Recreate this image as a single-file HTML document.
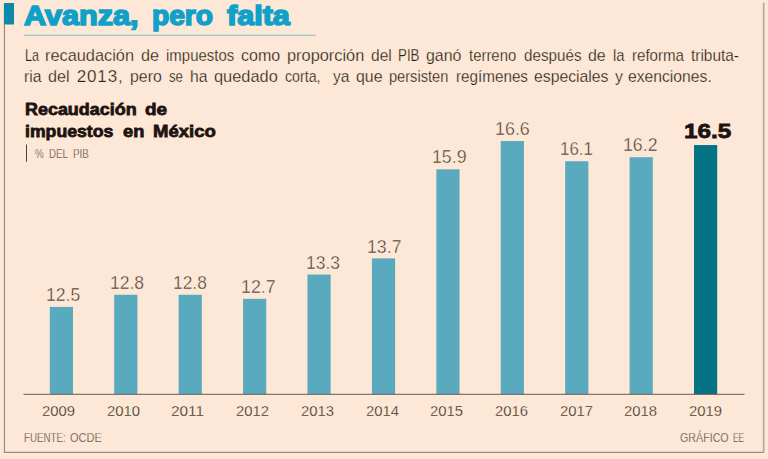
<!DOCTYPE html>
<html><head><meta charset="utf-8">
<style>
html,body{margin:0;padding:0;}
body{width:768px;height:459px;background:#fde8d7;position:relative;overflow:hidden;font-family:"Liberation Sans",sans-serif;}
.t{position:absolute;white-space:nowrap;line-height:1;transform-origin:0 0;}
</style></head><body>
<svg width="768" height="459" style="position:absolute;left:0;top:0">
<rect x="3.9" y="3" width="10.1" height="21.5" fill="#0b8aa8"/>
<path d="M4.45 24 V452.4 H763.6" fill="none" stroke="#a08a7d" stroke-width="1.2"/>
<path d="M763.7 453 V2.8" fill="none" stroke="#bca798" stroke-width="1.7"/>
<rect x="24" y="34.7" width="291.75" height="1.1" fill="#7fc3ce"/>
<rect x="26" y="144.5" width="1" height="17.2" fill="#51403a"/>
<rect x="49.80" y="306.90" width="23.2" height="87.40" fill="#5aaabf"/>
<rect x="114.22" y="294.76" width="23.2" height="99.54" fill="#5aaabf"/>
<rect x="178.64" y="294.76" width="23.2" height="99.54" fill="#5aaabf"/>
<rect x="243.06" y="298.81" width="23.2" height="95.49" fill="#5aaabf"/>
<rect x="307.48" y="274.53" width="23.2" height="119.77" fill="#5aaabf"/>
<rect x="371.90" y="258.35" width="23.2" height="135.95" fill="#5aaabf"/>
<rect x="436.32" y="169.34" width="23.2" height="224.96" fill="#5aaabf"/>
<rect x="500.74" y="141.01" width="23.2" height="253.29" fill="#5aaabf"/>
<rect x="565.16" y="161.24" width="23.2" height="233.06" fill="#5aaabf"/>
<rect x="629.58" y="157.20" width="23.2" height="237.10" fill="#5aaabf"/>
<rect x="694.00" y="145.06" width="23.2" height="249.24" fill="#037384"/>
<rect x="23.5" y="393.8" width="721" height="1" fill="#6b5a54"/>
</svg>
<span class="t" id="w0" style="left:24.44px;top:1.92px;font-size:27.5px;color:#10a0c8;transform:scaleX(1.1137);font-weight:bold;-webkit-text-stroke:1.6px #10a0c8;">Avanza,</span>
<span class="t" id="w1" style="left:152.34px;top:1.92px;font-size:27.5px;color:#10a0c8;transform:scaleX(1.0239);font-weight:bold;-webkit-text-stroke:1.6px #10a0c8;">pero</span>
<span class="t" id="w2" style="left:227.34px;top:1.92px;font-size:27.5px;color:#10a0c8;transform:scaleX(1.1109);font-weight:bold;-webkit-text-stroke:1.6px #10a0c8;">falta</span>
<span class="t" id="w3" style="left:24.50px;top:46.91px;font-size:17px;color:#2b1c17;transform:scaleX(0.7399);-webkit-text-stroke:0.25px #fde8d7;">La</span>
<span class="t" id="w4" style="left:45.25px;top:46.91px;font-size:17px;color:#2b1c17;transform:scaleX(0.9609);-webkit-text-stroke:0.25px #fde8d7;">recaudación</span>
<span class="t" id="w5" style="left:140.75px;top:46.91px;font-size:17px;color:#2b1c17;transform:scaleX(0.9513);-webkit-text-stroke:0.25px #fde8d7;">de</span>
<span class="t" id="w6" style="left:165.50px;top:46.91px;font-size:17px;color:#2b1c17;transform:scaleX(0.8808);-webkit-text-stroke:0.25px #fde8d7;">impuestos</span>
<span class="t" id="w7" style="left:240.75px;top:46.91px;font-size:17px;color:#2b1c17;transform:scaleX(0.9440);-webkit-text-stroke:0.25px #fde8d7;">como</span>
<span class="t" id="w8" style="left:286.75px;top:46.91px;font-size:17px;color:#2b1c17;transform:scaleX(0.9617);-webkit-text-stroke:0.25px #fde8d7;">proporción</span>
<span class="t" id="w9" style="left:370.50px;top:46.91px;font-size:17px;color:#2b1c17;transform:scaleX(0.9146);-webkit-text-stroke:0.25px #fde8d7;">del</span>
<span class="t" id="w10" style="left:398.00px;top:46.91px;font-size:17px;color:#2b1c17;transform:scaleX(0.7845);-webkit-text-stroke:0.25px #fde8d7;">PIB</span>
<span class="t" id="w11" style="left:425.75px;top:46.91px;font-size:17px;color:#2b1c17;transform:scaleX(0.9385);-webkit-text-stroke:0.25px #fde8d7;">ganó</span>
<span class="t" id="w12" style="left:468.75px;top:46.91px;font-size:17px;color:#2b1c17;transform:scaleX(0.8770);-webkit-text-stroke:0.25px #fde8d7;">terreno</span>
<span class="t" id="w13" style="left:523.75px;top:46.91px;font-size:17px;color:#2b1c17;transform:scaleX(0.8945);-webkit-text-stroke:0.25px #fde8d7;">después</span>
<span class="t" id="w14" style="left:588.00px;top:46.91px;font-size:17px;color:#2b1c17;transform:scaleX(0.9381);-webkit-text-stroke:0.25px #fde8d7;">de</span>
<span class="t" id="w15" style="left:612.50px;top:46.91px;font-size:17px;color:#2b1c17;transform:scaleX(0.8689);-webkit-text-stroke:0.25px #fde8d7;">la</span>
<span class="t" id="w16" style="left:631.50px;top:46.91px;font-size:17px;color:#2b1c17;transform:scaleX(0.8877);-webkit-text-stroke:0.25px #fde8d7;">reforma</span>
<span class="t" id="w17" style="left:690.50px;top:46.91px;font-size:17px;color:#2b1c17;transform:scaleX(0.9070);-webkit-text-stroke:0.25px #fde8d7;">tributa-</span>
<span class="t" id="w18" style="left:24.30px;top:67.81px;font-size:17px;color:#2b1c17;transform:scaleX(0.9256);-webkit-text-stroke:0.25px #fde8d7;">ria</span>
<span class="t" id="w19" style="left:48.00px;top:67.81px;font-size:17px;color:#2b1c17;transform:scaleX(0.9477);-webkit-text-stroke:0.25px #fde8d7;">del</span>
<span class="t" id="w20" style="left:76.70px;top:67.81px;font-size:17px;color:#2b1c17;letter-spacing:0.863px;-webkit-text-stroke:0.25px #fde8d7;">2013,</span>
<span class="t" id="w21" style="left:130.25px;top:67.81px;font-size:17px;color:#2b1c17;transform:scaleX(0.9330);-webkit-text-stroke:0.25px #fde8d7;">pero</span>
<span class="t" id="w22" style="left:168.50px;top:67.81px;font-size:17px;color:#2b1c17;transform:scaleX(0.7791);-webkit-text-stroke:0.25px #fde8d7;">se</span>
<span class="t" id="w23" style="left:189.50px;top:67.81px;font-size:17px;color:#2b1c17;transform:scaleX(0.9249);-webkit-text-stroke:0.25px #fde8d7;">ha</span>
<span class="t" id="w24" style="left:213.75px;top:67.81px;font-size:17px;color:#2b1c17;transform:scaleX(0.9632);-webkit-text-stroke:0.25px #fde8d7;">quedado</span>
<span class="t" id="w25" style="left:285.00px;top:67.81px;font-size:17px;color:#2b1c17;transform:scaleX(0.8347);-webkit-text-stroke:0.25px #fde8d7;">corta,</span>
<span class="t" id="w26" style="left:332.50px;top:67.81px;font-size:17px;color:#2b1c17;transform:scaleX(0.9183);-webkit-text-stroke:0.25px #fde8d7;">ya</span>
<span class="t" id="w27" style="left:355.50px;top:67.81px;font-size:17px;color:#2b1c17;transform:scaleX(0.9339);-webkit-text-stroke:0.25px #fde8d7;">que</span>
<span class="t" id="w28" style="left:388.75px;top:67.81px;font-size:17px;color:#2b1c17;transform:scaleX(0.8589);-webkit-text-stroke:0.25px #fde8d7;">persisten</span>
<span class="t" id="w29" style="left:455.75px;top:67.81px;font-size:17px;color:#2b1c17;transform:scaleX(0.8963);-webkit-text-stroke:0.25px #fde8d7;">regímenes</span>
<span class="t" id="w30" style="left:534.25px;top:67.81px;font-size:17px;color:#2b1c17;transform:scaleX(0.9274);-webkit-text-stroke:0.25px #fde8d7;">especiales</span>
<span class="t" id="w31" style="left:614.50px;top:67.81px;font-size:17px;color:#2b1c17;transform:scaleX(0.9412);-webkit-text-stroke:0.25px #fde8d7;">y</span>
<span class="t" id="w32" style="left:628.00px;top:67.81px;font-size:17px;color:#2b1c17;transform:scaleX(0.9230);-webkit-text-stroke:0.25px #fde8d7;">exenciones.</span>
<span class="t" id="w33" style="left:25.07px;top:101.04px;font-size:17.2px;color:#1d1311;transform:scaleX(1.0432);font-weight:bold;-webkit-text-stroke:0.8px #1d1311;">Recaudación</span>
<span class="t" id="w34" style="left:145.22px;top:101.04px;font-size:17.2px;color:#1d1311;transform:scaleX(1.0996);font-weight:bold;-webkit-text-stroke:0.8px #1d1311;">de</span>
<span class="t" id="w35" style="left:25.07px;top:122.94px;font-size:17.2px;color:#1d1311;transform:scaleX(1.0272);font-weight:bold;-webkit-text-stroke:0.8px #1d1311;">impuestos</span>
<span class="t" id="w36" style="left:122.72px;top:122.94px;font-size:17.2px;color:#1d1311;transform:scaleX(1.0597);font-weight:bold;-webkit-text-stroke:0.8px #1d1311;">en</span>
<span class="t" id="w37" style="left:152.82px;top:122.94px;font-size:17.2px;color:#1d1311;transform:scaleX(1.0786);font-weight:bold;-webkit-text-stroke:0.8px #1d1311;">México</span>
<span class="t" id="w38" style="left:35.00px;top:147.17px;font-size:13.5px;color:#57463f;transform:scaleX(0.7282);-webkit-text-stroke:0.25px #fde8d7;">%</span>
<span class="t" id="w39" style="left:48.75px;top:147.17px;font-size:13.5px;color:#57463f;transform:scaleX(0.7139);-webkit-text-stroke:0.25px #fde8d7;">DEL</span>
<span class="t" id="w40" style="left:73.25px;top:147.17px;font-size:13.5px;color:#57463f;transform:scaleX(0.7236);-webkit-text-stroke:0.25px #fde8d7;">PIB</span>
<span class="t" id="w41" style="left:24.00px;top:430.58px;font-size:13.2px;color:#57463f;transform:scaleX(0.7400);-webkit-text-stroke:0.25px #fde8d7;">FUENTE:</span>
<span class="t" id="w42" style="left:70.00px;top:430.58px;font-size:13.2px;color:#57463f;transform:scaleX(0.8331);-webkit-text-stroke:0.25px #fde8d7;">OCDE</span>
<span class="t" id="w43" style="left:680.25px;top:430.58px;font-size:13.2px;color:#57463f;transform:scaleX(0.8098);-webkit-text-stroke:0.25px #fde8d7;">GRÁFICO</span>
<span class="t" id="w44" style="left:733.25px;top:430.58px;font-size:13.2px;color:#57463f;transform:scaleX(0.6252);-webkit-text-stroke:0.25px #fde8d7;">EE</span>
<span class="t" id="w45" style="left:46.30px;top:285.05px;font-size:19.2px;color:#3f2f29;transform:scaleX(0.9181);-webkit-text-stroke:0.45px #fde8d7;">12.5</span>
<span class="t" id="w46" style="left:109.70px;top:272.91px;font-size:19.2px;color:#3f2f29;transform:scaleX(0.9128);-webkit-text-stroke:0.45px #fde8d7;">12.8</span>
<span class="t" id="w47" style="left:172.90px;top:272.91px;font-size:19.2px;color:#3f2f29;transform:scaleX(0.9047);-webkit-text-stroke:0.45px #fde8d7;">12.8</span>
<span class="t" id="w48" style="left:241.00px;top:276.96px;font-size:19.2px;color:#3f2f29;transform:scaleX(0.9302);-webkit-text-stroke:0.45px #fde8d7;">12.7</span>
<span class="t" id="w49" style="left:305.50px;top:252.68px;font-size:19.2px;color:#3f2f29;transform:scaleX(0.9101);-webkit-text-stroke:0.45px #fde8d7;">13.3</span>
<span class="t" id="w50" style="left:367.00px;top:236.50px;font-size:19.2px;color:#3f2f29;transform:scaleX(0.9235);-webkit-text-stroke:0.45px #fde8d7;">13.7</span>
<span class="t" id="w51" style="left:431.50px;top:147.48px;font-size:19.2px;color:#3f2f29;transform:scaleX(0.9235);-webkit-text-stroke:0.45px #fde8d7;">15.9</span>
<span class="t" id="w52" style="left:494.70px;top:119.16px;font-size:19.2px;color:#3f2f29;transform:scaleX(0.9315);-webkit-text-stroke:0.45px #fde8d7;">16.6</span>
<span class="t" id="w53" style="left:560.00px;top:139.39px;font-size:19.2px;color:#3f2f29;transform:scaleX(0.8833);-webkit-text-stroke:0.45px #fde8d7;">16.1</span>
<span class="t" id="w54" style="left:623.00px;top:135.35px;font-size:19.2px;color:#3f2f29;transform:scaleX(0.9235);-webkit-text-stroke:0.45px #fde8d7;">16.2</span>
<span class="t" id="w55" style="left:683.72px;top:120.89px;font-size:20.8px;color:#1d1311;transform:scaleX(1.1698);font-weight:bold;-webkit-text-stroke:0.8px #1d1311;">16.5</span>
<span class="t" id="w56" style="left:42.00px;top:403.06px;font-size:15.4px;color:#2e1f1a;transform:scaleX(0.9635);-webkit-text-stroke:0.3px #fde8d7;">2009</span>
<span class="t" id="w57" style="left:106.70px;top:403.06px;font-size:15.4px;color:#2e1f1a;transform:scaleX(0.9635);-webkit-text-stroke:0.3px #fde8d7;">2010</span>
<span class="t" id="w58" style="left:171.40px;top:403.06px;font-size:15.4px;color:#2e1f1a;transform:scaleX(0.9967);-webkit-text-stroke:0.3px #fde8d7;">2011</span>
<span class="t" id="w59" style="left:236.10px;top:403.06px;font-size:15.4px;color:#2e1f1a;transform:scaleX(0.9635);-webkit-text-stroke:0.3px #fde8d7;">2012</span>
<span class="t" id="w60" style="left:300.80px;top:403.06px;font-size:15.4px;color:#2e1f1a;transform:scaleX(0.9635);-webkit-text-stroke:0.3px #fde8d7;">2013</span>
<span class="t" id="w61" style="left:365.50px;top:403.06px;font-size:15.4px;color:#2e1f1a;transform:scaleX(0.9635);-webkit-text-stroke:0.3px #fde8d7;">2014</span>
<span class="t" id="w62" style="left:430.20px;top:403.06px;font-size:15.4px;color:#2e1f1a;transform:scaleX(0.9635);-webkit-text-stroke:0.3px #fde8d7;">2015</span>
<span class="t" id="w63" style="left:494.90px;top:403.06px;font-size:15.4px;color:#2e1f1a;transform:scaleX(0.9635);-webkit-text-stroke:0.3px #fde8d7;">2016</span>
<span class="t" id="w64" style="left:559.60px;top:403.06px;font-size:15.4px;color:#2e1f1a;transform:scaleX(0.9635);-webkit-text-stroke:0.3px #fde8d7;">2017</span>
<span class="t" id="w65" style="left:624.30px;top:403.06px;font-size:15.4px;color:#2e1f1a;transform:scaleX(0.9635);-webkit-text-stroke:0.3px #fde8d7;">2018</span>
<span class="t" id="w66" style="left:689.00px;top:403.06px;font-size:15.4px;color:#2e1f1a;transform:scaleX(0.9635);-webkit-text-stroke:0.3px #fde8d7;">2019</span>
</body></html>
